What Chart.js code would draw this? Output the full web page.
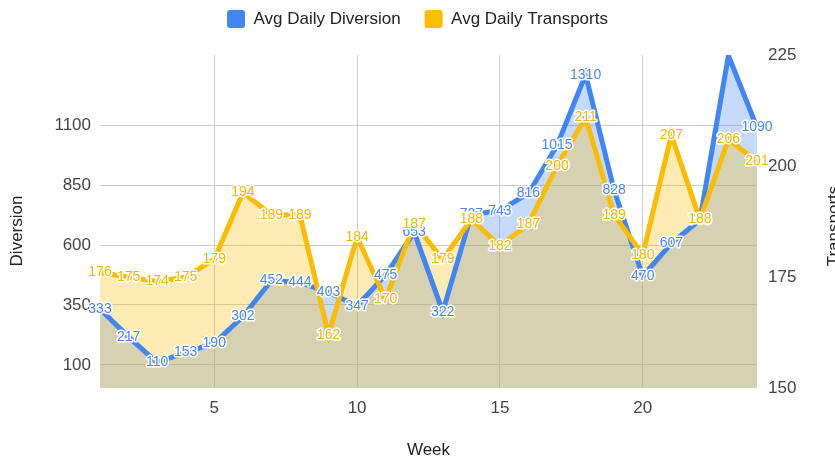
<!DOCTYPE html>
<html>
<head>
<meta charset="utf-8">
<title>Avg Daily Diversion vs Transports</title>
<script src="https://cdn.jsdelivr.net/npm/chart.js@4.4.1/dist/chart.umd.min.js"></script>
<style>
  html, body { margin: 0; padding: 0; background: #fff; }
  #wrap { width: 835px; height: 457px; }
</style>
</head>
<body>
<div id="wrap"><canvas id="myChart" width="835" height="457"></canvas></div>
<script>
// data
var weeks = [1, 2, 3, 4, 5, 6, 7, 8, 9, 10, 11, 12, 13, 14, 15, 16, 17, 18, 19, 20, 21, 22, 23, 24];
var diversion = [333, 217, 110, 153, 190, 302, 452, 444, 403, 347, 475, 653, 322, 727, 743, 816, 1015, 1310, 828, 470, 607, 705, 1390, 1090];
var transports = [176, 175, 174, 175, 179, 194, 189, 189, 162, 184, 170, 187, 179, 188, 182, 187, 200, 211, 189, 180, 207, 188, 206, 201];

var weekTicks = [5, 10, 15, 20];
var diversionTicks = [100, 350, 600, 850, 1100];
var transportTicks = [150, 175, 200, 225];

var FONT = '"Liberation Sans", Arial, sans-serif';
Chart.defaults.font.family = FONT;

function toPoints(values) {
    return weeks.map(function(w, i) { return { x: w, y: values[i] }; });
}

function setTicks(list) {
    return function(scale) {
        scale.ticks = list.map(function(v) { return { value: v }; });
    };
}

function plain(value) {
    return String(value); // no thousands separator
}

// value labels with a white halo, like the original
var pointLabels = {
    id: 'pointLabels',
    afterDatasetsDraw: function(chart) {
        var ctx = chart.ctx;
        var area = chart.chartArea;
        ctx.save();
        ctx.font = '14px ' + FONT;
        ctx.textAlign = 'center';
        ctx.textBaseline = 'middle';
        ctx.lineJoin = 'round';
        ctx.lineWidth = 3;
        ctx.strokeStyle = '#ffffff';
        chart.data.datasets.forEach(function(ds, i) {
            var meta = chart.getDatasetMeta(i);
            meta.data.forEach(function(pt, j) {
                if (pt.y - 8 < area.top) return; // no room above the plot
                var txt = String(ds.data[j].y);
                ctx.strokeText(txt, pt.x, pt.y);
                ctx.fillStyle = ds.labelColor;
                ctx.fillText(txt, pt.x, pt.y);
            });
        });
        ctx.restore();
    }
};

// both vertical axis titles read bottom to top
var axisTitles = {
    id: 'axisTitles',
    afterDraw: function(chart) {
        var ctx = chart.ctx;
        ctx.save();
        ctx.font = '17px ' + FONT;
        ctx.fillStyle = '#222';
        ctx.textAlign = 'center';
        ctx.textBaseline = 'middle';
        ctx.translate(17, 231);
        ctx.rotate(-Math.PI / 2);
        ctx.fillText('Diversion', 0, 0);
        ctx.restore();

        ctx.save();
        ctx.font = '17px ' + FONT;
        ctx.fillStyle = '#222';
        ctx.textAlign = 'center';
        ctx.textBaseline = 'middle';
        ctx.translate(834, 226);
        ctx.rotate(-Math.PI / 2);
        ctx.fillText('Transports', 0, 0);
        ctx.restore();
    }
};

// push the plot down below the legend
var legendGap = {
    id: 'legendGap',
    beforeInit: function(chart) {
        var fit = chart.legend.fit;
        chart.legend.fit = function() {
            fit.bind(chart.legend)();
            this.height += 17;
        };
    }
};

var ctx = document.getElementById('myChart').getContext('2d');

var myChart = new Chart(ctx, {
    type: 'line',
    data: {
        datasets: [{
            label: 'Avg Daily Diversion',
            data: toPoints(diversion),
            yAxisID: 'y',
            borderColor: '#4285F4',
            backgroundColor: 'rgba(66, 133, 244, 0.3)',
            labelColor: '#4a86e8',
            borderWidth: 5,
            pointRadius: 0,
            fill: 'origin',
            order: 1
        }, {
            label: 'Avg Daily Transports',
            data: toPoints(transports),
            yAxisID: 'y1',
            borderColor: '#FBBC04',
            backgroundColor: 'rgba(251, 188, 4, 0.3)',
            labelColor: '#f6b400',
            borderWidth: 5,
            pointRadius: 0,
            fill: 'origin',
            order: 0
        }]
    },
    options: {
        responsive: false,
        animation: false,
        layout: { padding: { top: -14, left: 0, right: 0, bottom: 0 } },
        plugins: {
            // all areas first, lines over them
            filler: { drawTime: 'beforeDatasetsDraw' },
            legend: {
                position: 'top',
                labels: {
                    boxWidth: 18,
                    boxHeight: 18,
                    padding: 24,
                    color: '#222',
                    font: { size: 17 },
                    sort: function(a, b) { return a.datasetIndex - b.datasetIndex; },
                    generateLabels: function(chart) {
                        var items = Chart.defaults.plugins.legend.labels.generateLabels(chart);
                        items.forEach(function(it) {
                            it.fillStyle = it.strokeStyle;
                            it.lineWidth = 0;
                            it.borderRadius = 3;
                        });
                        return items;
                    },
                    useBorderRadius: true,
                    borderRadius: 3
                }
            },
            tooltip: { enabled: false }
        },
        scales: {
            x: {
                type: 'linear',
                min: 1,
                max: 24,
                afterBuildTicks: setTicks(weekTicks),
                afterFit: function(scale) { scale.height = 69; },
                grid: { color: '#cccccc', drawTicks: false },
                border: { display: false },
                ticks: { padding: 10, color: '#444', font: { size: 17 }, callback: plain },
                title: {
                    display: true,
                    text: 'Week',
                    color: '#222',
                    font: { size: 17 },
                    padding: { top: 0, bottom: -4 }
                }
            },
            y: {
                position: 'left',
                min: 4,
                max: 1392,
                afterBuildTicks: setTicks(diversionTicks),
                afterFit: function(scale) { scale.width = 100; },
                grid: { color: '#cccccc', drawTicks: false },
                border: { display: false },
                ticks: { padding: 9, color: '#444', font: { size: 17 }, callback: plain }
            },
            y1: {
                position: 'right',
                min: 150,
                max: 225,
                afterBuildTicks: setTicks(transportTicks),
                afterFit: function(scale) { scale.width = 78; },
                grid: { drawOnChartArea: false, drawTicks: false },
                border: { display: false },
                ticks: { padding: 11, color: '#444', font: { size: 17 }, callback: plain }
            }
        }
    },
    plugins: [legendGap, pointLabels, axisTitles]
});
</script>
</body>
</html>
